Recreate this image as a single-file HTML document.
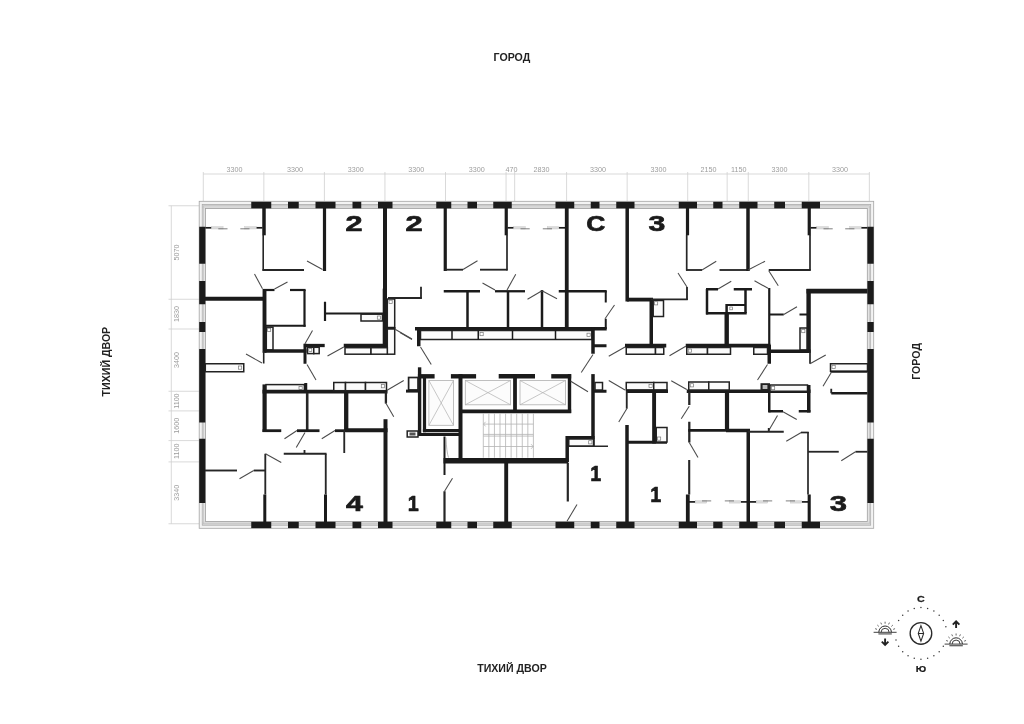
<!DOCTYPE html>
<html><head><meta charset="utf-8"><title>Plan</title>
<style>
html,body{margin:0;padding:0;background:#fff;}
body{width:1024px;height:724px;overflow:hidden;font-family:"Liberation Sans",sans-serif;}
svg{display:block;will-change:transform;filter:blur(0.35px);}
svg text{font-family:"Liberation Sans",sans-serif;}
</style></head><body>
<svg width="1024" height="724" viewBox="0 0 1024 724">
<rect width="1024" height="724" fill="#fff"/>
<line x1="203.3" y1="174.0" x2="869.35" y2="174.0" stroke="#cfcfcf" stroke-width="0.8"/>
<line x1="203.3" y1="172" x2="203.3" y2="201.2" stroke="#cfcfcf" stroke-width="0.8"/>
<line x1="263.85" y1="172" x2="263.85" y2="201.2" stroke="#cfcfcf" stroke-width="0.8"/>
<line x1="324.4" y1="172" x2="324.4" y2="201.2" stroke="#cfcfcf" stroke-width="0.8"/>
<line x1="384.95" y1="172" x2="384.95" y2="201.2" stroke="#cfcfcf" stroke-width="0.8"/>
<line x1="445.5" y1="172" x2="445.5" y2="201.2" stroke="#cfcfcf" stroke-width="0.8"/>
<line x1="506.05" y1="172" x2="506.05" y2="201.2" stroke="#cfcfcf" stroke-width="0.8"/>
<line x1="514.67" y1="172" x2="514.67" y2="201.2" stroke="#cfcfcf" stroke-width="0.8"/>
<line x1="566.6" y1="172" x2="566.6" y2="201.2" stroke="#cfcfcf" stroke-width="0.8"/>
<line x1="627.15" y1="172" x2="627.15" y2="201.2" stroke="#cfcfcf" stroke-width="0.8"/>
<line x1="687.7" y1="172" x2="687.7" y2="201.2" stroke="#cfcfcf" stroke-width="0.8"/>
<line x1="727.15" y1="172" x2="727.15" y2="201.2" stroke="#cfcfcf" stroke-width="0.8"/>
<line x1="748.25" y1="172" x2="748.25" y2="201.2" stroke="#cfcfcf" stroke-width="0.8"/>
<line x1="808.8" y1="172" x2="808.8" y2="201.2" stroke="#cfcfcf" stroke-width="0.8"/>
<line x1="869.35" y1="172" x2="869.35" y2="201.2" stroke="#cfcfcf" stroke-width="0.8"/>
<text x="234.6" y="171.6" font-size="7.2" fill="#9c9c9c" text-anchor="middle">3300</text>
<text x="295.1" y="171.6" font-size="7.2" fill="#9c9c9c" text-anchor="middle">3300</text>
<text x="355.7" y="171.6" font-size="7.2" fill="#9c9c9c" text-anchor="middle">3300</text>
<text x="416.2" y="171.6" font-size="7.2" fill="#9c9c9c" text-anchor="middle">3300</text>
<text x="476.8" y="171.6" font-size="7.2" fill="#9c9c9c" text-anchor="middle">3300</text>
<text x="511.4" y="171.6" font-size="7.2" fill="#9c9c9c" text-anchor="middle">470</text>
<text x="541.6" y="171.6" font-size="7.2" fill="#9c9c9c" text-anchor="middle">2830</text>
<text x="597.9" y="171.6" font-size="7.2" fill="#9c9c9c" text-anchor="middle">3300</text>
<text x="658.4" y="171.6" font-size="7.2" fill="#9c9c9c" text-anchor="middle">3300</text>
<text x="708.4" y="171.6" font-size="7.2" fill="#9c9c9c" text-anchor="middle">2150</text>
<text x="738.7" y="171.6" font-size="7.2" fill="#9c9c9c" text-anchor="middle">1150</text>
<text x="779.5" y="171.6" font-size="7.2" fill="#9c9c9c" text-anchor="middle">3300</text>
<text x="840.1" y="171.6" font-size="7.2" fill="#9c9c9c" text-anchor="middle">3300</text>
<line x1="171.3" y1="205.75" x2="171.3" y2="523.75" stroke="#cfcfcf" stroke-width="0.8"/>
<line x1="168.5" y1="205.75" x2="199" y2="205.75" stroke="#cfcfcf" stroke-width="0.8"/>
<line x1="168.5" y1="299.25" x2="199" y2="299.25" stroke="#cfcfcf" stroke-width="0.8"/>
<line x1="168.5" y1="329.0" x2="199" y2="329.0" stroke="#cfcfcf" stroke-width="0.8"/>
<line x1="168.5" y1="391.25" x2="199" y2="391.25" stroke="#cfcfcf" stroke-width="0.8"/>
<line x1="168.5" y1="410.9" x2="199" y2="410.9" stroke="#cfcfcf" stroke-width="0.8"/>
<line x1="168.5" y1="440.6" x2="199" y2="440.6" stroke="#cfcfcf" stroke-width="0.8"/>
<line x1="168.5" y1="461.9" x2="199" y2="461.9" stroke="#cfcfcf" stroke-width="0.8"/>
<line x1="168.5" y1="523.75" x2="199" y2="523.75" stroke="#cfcfcf" stroke-width="0.8"/>
<text transform="translate(179.4,252.5) rotate(-90)" font-size="7.2" fill="#9c9c9c" text-anchor="middle">5070</text>
<text transform="translate(179.4,314.1) rotate(-90)" font-size="7.2" fill="#9c9c9c" text-anchor="middle">1830</text>
<text transform="translate(179.4,360.1) rotate(-90)" font-size="7.2" fill="#9c9c9c" text-anchor="middle">3400</text>
<text transform="translate(179.4,401.1) rotate(-90)" font-size="7.2" fill="#9c9c9c" text-anchor="middle">1100</text>
<text transform="translate(179.4,425.8) rotate(-90)" font-size="7.2" fill="#9c9c9c" text-anchor="middle">1600</text>
<text transform="translate(179.4,451.2) rotate(-90)" font-size="7.2" fill="#9c9c9c" text-anchor="middle">1100</text>
<text transform="translate(179.4,492.8) rotate(-90)" font-size="7.2" fill="#9c9c9c" text-anchor="middle">3340</text>
<path d="M199.2 201.3H873.7V528.3H199.2Z M205.5 208.5V521.4H867.3V208.5Z" fill="#f3f3f3" fill-rule="evenodd"/>
<path d="M202.2 204.4H870.7V525.2H202.2Z M205.5 208.5V521.4H867.3V208.5Z" fill="#e4e4e4" fill-rule="evenodd"/>
<rect x="202.2" y="204.4" width="668.5" height="4.1" fill="#d9d9d9"/>
<rect x="202.2" y="521.4" width="668.5" height="3.8" fill="#d9d9d9"/>
<rect x="199.2" y="201.3" width="674.50" height="327.00" fill="none" stroke="#a4a4a4" stroke-width="0.8"/>
<rect x="205.5" y="208.5" width="661.80" height="312.90" fill="none" stroke="#a0a0a0" stroke-width="0.8"/>
<rect x="202.2" y="204.4" width="668.5" height="320.8" fill="none" stroke="#a8a8a8" stroke-width="0.7"/>
<rect x="203.6" y="205.8" width="665.7" height="318.0" fill="none" stroke="#bdbdbd" stroke-width="0.6"/>
<rect x="251.25" y="201.8" width="20.0" height="6.5" fill="#1b1b1b"/>
<rect x="251.25" y="521.8" width="20.0" height="6.3" fill="#1b1b1b"/>
<rect x="288" y="201.8" width="10.75" height="6.5" fill="#1b1b1b"/>
<rect x="288" y="521.8" width="10.75" height="6.3" fill="#1b1b1b"/>
<rect x="315.5" y="201.8" width="20.0" height="6.5" fill="#1b1b1b"/>
<rect x="315.5" y="521.8" width="20.0" height="6.3" fill="#1b1b1b"/>
<rect x="352.5" y="201.8" width="8.75" height="6.5" fill="#1b1b1b"/>
<rect x="352.5" y="521.8" width="8.75" height="6.3" fill="#1b1b1b"/>
<rect x="378" y="201.8" width="14.5" height="6.5" fill="#1b1b1b"/>
<rect x="378" y="521.8" width="14.5" height="6.3" fill="#1b1b1b"/>
<rect x="436.25" y="201.8" width="15.0" height="6.5" fill="#1b1b1b"/>
<rect x="436.25" y="521.8" width="15.0" height="6.3" fill="#1b1b1b"/>
<rect x="467.5" y="201.8" width="9.5" height="6.5" fill="#1b1b1b"/>
<rect x="467.5" y="521.8" width="9.5" height="6.3" fill="#1b1b1b"/>
<rect x="493.25" y="201.8" width="18.5" height="6.5" fill="#1b1b1b"/>
<rect x="493.25" y="521.8" width="18.5" height="6.3" fill="#1b1b1b"/>
<rect x="555.5" y="201.8" width="18.75" height="6.5" fill="#1b1b1b"/>
<rect x="555.5" y="521.8" width="18.75" height="6.3" fill="#1b1b1b"/>
<rect x="590.75" y="201.8" width="8.75" height="6.5" fill="#1b1b1b"/>
<rect x="590.75" y="521.8" width="8.75" height="6.3" fill="#1b1b1b"/>
<rect x="616.25" y="201.8" width="18.25" height="6.5" fill="#1b1b1b"/>
<rect x="616.25" y="521.8" width="18.25" height="6.3" fill="#1b1b1b"/>
<rect x="678.75" y="201.8" width="18.25" height="6.5" fill="#1b1b1b"/>
<rect x="678.75" y="521.8" width="18.25" height="6.3" fill="#1b1b1b"/>
<rect x="713.25" y="201.8" width="9.25" height="6.5" fill="#1b1b1b"/>
<rect x="713.25" y="521.8" width="9.25" height="6.3" fill="#1b1b1b"/>
<rect x="739.25" y="201.8" width="18.25" height="6.5" fill="#1b1b1b"/>
<rect x="739.25" y="521.8" width="18.25" height="6.3" fill="#1b1b1b"/>
<rect x="774.25" y="201.8" width="10.75" height="6.5" fill="#1b1b1b"/>
<rect x="774.25" y="521.8" width="10.75" height="6.3" fill="#1b1b1b"/>
<rect x="801.75" y="201.8" width="18.25" height="6.5" fill="#1b1b1b"/>
<rect x="801.75" y="521.8" width="18.25" height="6.3" fill="#1b1b1b"/>
<rect x="199.2" y="226.75" width="6.1" height="37.0" fill="#1b1b1b"/>
<rect x="867.4" y="226.75" width="6.3" height="37.0" fill="#1b1b1b"/>
<rect x="199.2" y="281" width="6.1" height="23.25" fill="#1b1b1b"/>
<rect x="867.4" y="281" width="6.3" height="23.25" fill="#1b1b1b"/>
<rect x="199.2" y="322" width="6.1" height="10" fill="#1b1b1b"/>
<rect x="867.4" y="322" width="6.3" height="10" fill="#1b1b1b"/>
<rect x="199.2" y="349" width="6.1" height="73.5" fill="#1b1b1b"/>
<rect x="867.4" y="349" width="6.3" height="73.5" fill="#1b1b1b"/>
<rect x="199.2" y="438.75" width="6.1" height="64.25" fill="#1b1b1b"/>
<rect x="867.4" y="438.75" width="6.3" height="64.25" fill="#1b1b1b"/>
<line x1="205.3" y1="227.8" x2="211.60000000000002" y2="227.8" stroke="#1b1b1b" stroke-width="1.7"/>
<rect x="211.60000000000002" y="226.60000000000002" width="11.5" height="2.4" fill="#dcdcdc" stroke="#c4c4c4" stroke-width="0.4"/>
<line x1="218.3" y1="228.8" x2="227.5" y2="228.8" stroke="#606060" stroke-width="0.8"/>
<line x1="256.2" y1="227.8" x2="262.5" y2="227.8" stroke="#1b1b1b" stroke-width="1.7"/>
<rect x="244.7" y="226.60000000000002" width="11.5" height="2.4" fill="#dcdcdc" stroke="#c4c4c4" stroke-width="0.4"/>
<line x1="240.3" y1="228.8" x2="249.5" y2="228.8" stroke="#606060" stroke-width="0.8"/>
<line x1="507.5" y1="227.8" x2="513.8" y2="227.8" stroke="#1b1b1b" stroke-width="1.7"/>
<rect x="513.8" y="226.60000000000002" width="11.5" height="2.4" fill="#dcdcdc" stroke="#c4c4c4" stroke-width="0.4"/>
<line x1="520.5" y1="228.8" x2="529.7" y2="228.8" stroke="#606060" stroke-width="0.8"/>
<line x1="558.7" y1="227.8" x2="565" y2="227.8" stroke="#1b1b1b" stroke-width="1.7"/>
<rect x="547.2" y="226.60000000000002" width="11.5" height="2.4" fill="#dcdcdc" stroke="#c4c4c4" stroke-width="0.4"/>
<line x1="542.8" y1="228.8" x2="552" y2="228.8" stroke="#606060" stroke-width="0.8"/>
<line x1="810.5" y1="227.8" x2="816.8" y2="227.8" stroke="#1b1b1b" stroke-width="1.7"/>
<rect x="816.8" y="226.60000000000002" width="11.5" height="2.4" fill="#dcdcdc" stroke="#c4c4c4" stroke-width="0.4"/>
<line x1="823.5" y1="228.8" x2="832.7" y2="228.8" stroke="#606060" stroke-width="0.8"/>
<line x1="861.1" y1="227.8" x2="867.4" y2="227.8" stroke="#1b1b1b" stroke-width="1.7"/>
<rect x="849.6" y="226.60000000000002" width="11.5" height="2.4" fill="#dcdcdc" stroke="#c4c4c4" stroke-width="0.4"/>
<line x1="845.1999999999999" y1="228.8" x2="854.4" y2="228.8" stroke="#606060" stroke-width="0.8"/>
<line x1="689" y1="501.9" x2="695.3" y2="501.9" stroke="#1b1b1b" stroke-width="1.7"/>
<rect x="695.3" y="500.7" width="11.5" height="2.4" fill="#dcdcdc" stroke="#c4c4c4" stroke-width="0.4"/>
<line x1="702" y1="500.9" x2="711.2" y2="500.9" stroke="#606060" stroke-width="0.8"/>
<line x1="740.7" y1="501.9" x2="747" y2="501.9" stroke="#1b1b1b" stroke-width="1.7"/>
<rect x="729.2" y="500.7" width="11.5" height="2.4" fill="#dcdcdc" stroke="#c4c4c4" stroke-width="0.4"/>
<line x1="724.8" y1="500.9" x2="734" y2="500.9" stroke="#606060" stroke-width="0.8"/>
<line x1="750" y1="501.9" x2="756.3" y2="501.9" stroke="#1b1b1b" stroke-width="1.7"/>
<rect x="756.3" y="500.7" width="11.5" height="2.4" fill="#dcdcdc" stroke="#c4c4c4" stroke-width="0.4"/>
<line x1="763" y1="500.9" x2="772.2" y2="500.9" stroke="#606060" stroke-width="0.8"/>
<line x1="801.7" y1="501.9" x2="808" y2="501.9" stroke="#1b1b1b" stroke-width="1.7"/>
<rect x="790.2" y="500.7" width="11.5" height="2.4" fill="#dcdcdc" stroke="#c4c4c4" stroke-width="0.4"/>
<line x1="785.8" y1="500.9" x2="795" y2="500.9" stroke="#606060" stroke-width="0.8"/>
<line x1="264" y1="208" x2="264" y2="235.3" stroke="#1b1b1b" stroke-width="3.5"/>
<line x1="263.2" y1="235" x2="263.2" y2="270.7" stroke="#262626" stroke-width="1.6"/>
<line x1="262.5" y1="270" x2="304" y2="270" stroke="#262626" stroke-width="1.85"/>
<line x1="324.5" y1="208" x2="324.5" y2="271" stroke="#1b1b1b" stroke-width="3.2"/>
<line x1="307" y1="261" x2="322.5" y2="269.5" stroke="#4a4a4a" stroke-width="1.05"/>
<line x1="385" y1="208" x2="385" y2="347" stroke="#1b1b1b" stroke-width="4"/>
<rect x="382.7" y="288.6" width="1.3" height="58.4" fill="#1b1b1b"/>
<line x1="205" y1="298.75" x2="264" y2="298.75" stroke="#1b1b1b" stroke-width="4"/>
<line x1="264.5" y1="289" x2="264.5" y2="352.8" stroke="#1b1b1b" stroke-width="3.9"/>
<line x1="263" y1="290" x2="274.5" y2="290" stroke="#1b1b1b" stroke-width="2.2"/>
<line x1="290" y1="290" x2="305.6" y2="290" stroke="#1b1b1b" stroke-width="2.2"/>
<line x1="304.5" y1="290" x2="304.5" y2="326.8" stroke="#1b1b1b" stroke-width="2.2"/>
<line x1="264.5" y1="325.75" x2="305.6" y2="325.75" stroke="#1b1b1b" stroke-width="2.2"/>
<line x1="254.5" y1="274" x2="262.5" y2="288.75" stroke="#4a4a4a" stroke-width="1.05"/>
<line x1="274.5" y1="289" x2="287.5" y2="282" stroke="#4a4a4a" stroke-width="1.05"/>
<line x1="325" y1="301.75" x2="325" y2="321" stroke="#1b1b1b" stroke-width="2.2"/>
<line x1="325" y1="313.5" x2="385" y2="313.5" stroke="#1b1b1b" stroke-width="2.0"/>
<rect x="361" y="314.2" width="21.5" height="6.8" fill="#fbfbfb" stroke="#222" stroke-width="1.5"/>
<rect x="377.3" y="316" width="3.2" height="3.2" fill="#fff" stroke="#777" stroke-width="0.7"/>
<rect x="387.3" y="299" width="7.4" height="28.5" fill="#fbfbfb" stroke="#222" stroke-width="1.5"/>
<line x1="385" y1="328.6" x2="395.5" y2="328.6" stroke="#1b1b1b" stroke-width="3"/>
<rect x="389" y="300.2" width="3.2" height="3.2" fill="#fff" stroke="#777" stroke-width="0.7"/>
<line x1="388" y1="298" x2="421.8" y2="298" stroke="#262626" stroke-width="1.8"/>
<line x1="421" y1="286.75" x2="421" y2="298.8" stroke="#262626" stroke-width="1.8"/>
<line x1="263.7" y1="351" x2="263.7" y2="363.5" stroke="#262626" stroke-width="1.6"/>
<rect x="266.3" y="327.2" width="6.7" height="22.8" fill="#fbfbfb" stroke="#222" stroke-width="1.5"/>
<rect x="267.5" y="328.3" width="3.2" height="3.2" fill="#fff" stroke="#777" stroke-width="0.7"/>
<line x1="264.5" y1="351" x2="306.5" y2="351" stroke="#1b1b1b" stroke-width="3.6"/>
<line x1="305" y1="343.75" x2="305" y2="363.75" stroke="#1b1b1b" stroke-width="3"/>
<line x1="303.9" y1="345.5" x2="324.7" y2="345.5" stroke="#1b1b1b" stroke-width="3.3"/>
<rect x="307.5" y="347.3" width="6.25" height="6.3" fill="#fbfbfb" stroke="#222" stroke-width="1.5"/>
<rect x="313.75" y="347.3" width="5.45" height="6.3" fill="#fbfbfb" stroke="#222" stroke-width="1.5"/>
<rect x="308.8" y="348.6" width="3" height="3" fill="#fff" stroke="#777" stroke-width="0.7"/>
<line x1="312.5" y1="330.5" x2="305" y2="343.75" stroke="#4a4a4a" stroke-width="1.05"/>
<line x1="307" y1="364.5" x2="316" y2="380" stroke="#4a4a4a" stroke-width="1.05"/>
<line x1="246" y1="354" x2="262" y2="363" stroke="#4a4a4a" stroke-width="1.05"/>
<rect x="205.3" y="363.75" width="38.45" height="8.0" fill="#fbfbfb" stroke="#222" stroke-width="1.5"/>
<rect x="238.5" y="366" width="3.2" height="3.2" fill="#fff" stroke="#777" stroke-width="0.7"/>
<rect x="387.3" y="329" width="7.4" height="25.2" fill="#fbfbfb" stroke="#222" stroke-width="1.5"/>
<line x1="343.75" y1="345.5" x2="387" y2="345.5" stroke="#1b1b1b" stroke-width="3.5"/>
<rect x="345" y="347.7" width="26" height="6.5" fill="#fbfbfb" stroke="#222" stroke-width="1.5"/>
<rect x="371" y="347.7" width="16.3" height="6.5" fill="#fbfbfb" stroke="#222" stroke-width="1.5"/>
<line x1="327.5" y1="356" x2="343.75" y2="347" stroke="#4a4a4a" stroke-width="1.05"/>
<line x1="395.5" y1="329.5" x2="412" y2="339" stroke="#4a4a4a" stroke-width="1.05"/>
<line x1="387.5" y1="390" x2="403.75" y2="380.5" stroke="#4a4a4a" stroke-width="1.05"/>
<line x1="264.6" y1="384.4" x2="264.6" y2="432" stroke="#1b1b1b" stroke-width="4.2"/>
<rect x="266" y="384.6" width="38.4" height="6.4" fill="#fbfbfb" stroke="#222" stroke-width="1.5"/>
<rect x="299" y="386.4" width="3.2" height="3.2" fill="#fff" stroke="#777" stroke-width="0.7"/>
<line x1="262.5" y1="391.6" x2="387.5" y2="391.6" stroke="#1b1b1b" stroke-width="3.8"/>
<line x1="305.75" y1="383" x2="305.75" y2="393" stroke="#1b1b1b" stroke-width="3"/>
<line x1="307.2" y1="393" x2="307.2" y2="431" stroke="#262626" stroke-width="2.6"/>
<rect x="333.75" y="382.5" width="11.75" height="8.2" fill="#fbfbfb" stroke="#222" stroke-width="1.5"/>
<rect x="345.5" y="382.5" width="20.0" height="8.2" fill="#fbfbfb" stroke="#222" stroke-width="1.5"/>
<rect x="365.5" y="382.5" width="21.0" height="8.2" fill="#fbfbfb" stroke="#222" stroke-width="1.5"/>
<rect x="381.3" y="384.6" width="3.2" height="3.2" fill="#fff" stroke="#777" stroke-width="0.7"/>
<line x1="346.2" y1="392" x2="346.2" y2="432" stroke="#1b1b1b" stroke-width="4.3"/>
<line x1="345.75" y1="430.2" x2="387.5" y2="430.2" stroke="#1b1b1b" stroke-width="4"/>
<line x1="385.5" y1="419.2" x2="385.5" y2="522" stroke="#1b1b1b" stroke-width="4"/>
<line x1="385.9" y1="392" x2="385.9" y2="403.5" stroke="#262626" stroke-width="2.3"/>
<line x1="385.5" y1="402.5" x2="393.75" y2="416.75" stroke="#4a4a4a" stroke-width="1.05"/>
<line x1="262.5" y1="430.7" x2="281.25" y2="430.7" stroke="#1b1b1b" stroke-width="2.8"/>
<line x1="297" y1="430.7" x2="319.5" y2="430.7" stroke="#1b1b1b" stroke-width="2.8"/>
<line x1="335" y1="430.7" x2="345.75" y2="430.7" stroke="#1b1b1b" stroke-width="2.8"/>
<line x1="284.5" y1="438.75" x2="297" y2="430.5" stroke="#4a4a4a" stroke-width="1.05"/>
<line x1="296.25" y1="447.5" x2="305" y2="432.5" stroke="#4a4a4a" stroke-width="1.05"/>
<line x1="321.75" y1="438.75" x2="335" y2="430.5" stroke="#4a4a4a" stroke-width="1.05"/>
<line x1="344.25" y1="430" x2="344.25" y2="453" stroke="#262626" stroke-width="1.85"/>
<line x1="283.75" y1="453.75" x2="326.5" y2="453.75" stroke="#262626" stroke-width="1.85"/>
<line x1="304.5" y1="450" x2="304.5" y2="453.75" stroke="#262626" stroke-width="1.85"/>
<line x1="325.75" y1="453.75" x2="325.75" y2="494.5" stroke="#262626" stroke-width="1.85"/>
<line x1="325.5" y1="494.5" x2="325.5" y2="522" stroke="#1b1b1b" stroke-width="3"/>
<line x1="265.3" y1="453.75" x2="265.3" y2="494.5" stroke="#262626" stroke-width="1.85"/>
<line x1="264.8" y1="494.5" x2="264.8" y2="522" stroke="#1b1b1b" stroke-width="3"/>
<line x1="265.5" y1="453.75" x2="281.25" y2="462.5" stroke="#4a4a4a" stroke-width="1.05"/>
<line x1="205" y1="470.5" x2="237" y2="470.5" stroke="#262626" stroke-width="1.9"/>
<line x1="253.75" y1="470.5" x2="265.5" y2="470.5" stroke="#262626" stroke-width="1.9"/>
<line x1="239.5" y1="478.75" x2="253.75" y2="470.5" stroke="#4a4a4a" stroke-width="1.05"/>
<line x1="445.25" y1="208" x2="445.25" y2="271" stroke="#1b1b1b" stroke-width="3.2"/>
<line x1="445" y1="269.7" x2="463" y2="269.7" stroke="#262626" stroke-width="1.85"/>
<line x1="463" y1="269.5" x2="477.5" y2="260.75" stroke="#4a4a4a" stroke-width="1.05"/>
<line x1="480" y1="269.7" x2="507.5" y2="269.7" stroke="#262626" stroke-width="1.85"/>
<line x1="506.25" y1="208" x2="506.25" y2="235.3" stroke="#1b1b1b" stroke-width="3.2"/>
<line x1="507" y1="235" x2="507" y2="270.5" stroke="#262626" stroke-width="1.7"/>
<line x1="566.75" y1="208" x2="566.75" y2="329" stroke="#1b1b1b" stroke-width="3.8"/>
<line x1="627.2" y1="208" x2="627.2" y2="301.5" stroke="#1b1b1b" stroke-width="3.5"/>
<line x1="627" y1="299.6" x2="653" y2="299.6" stroke="#1b1b1b" stroke-width="3.8"/>
<line x1="651" y1="299.3" x2="687.7" y2="299.3" stroke="#262626" stroke-width="1.85"/>
<line x1="651.25" y1="300" x2="651.25" y2="347" stroke="#1b1b1b" stroke-width="3.5"/>
<rect x="653.2" y="300.5" width="10.3" height="16.0" fill="#fbfbfb" stroke="#222" stroke-width="1.5"/>
<rect x="654.5" y="301.7" width="3.2" height="3.2" fill="#fff" stroke="#777" stroke-width="0.7"/>
<line x1="443.75" y1="291.25" x2="480" y2="291.25" stroke="#1b1b1b" stroke-width="2.3"/>
<line x1="495" y1="291.25" x2="525" y2="291.25" stroke="#1b1b1b" stroke-width="2.3"/>
<line x1="558.75" y1="291.25" x2="606.7" y2="291.25" stroke="#1b1b1b" stroke-width="2.3"/>
<line x1="467.5" y1="291" x2="467.5" y2="328" stroke="#1b1b1b" stroke-width="2.5"/>
<line x1="508" y1="291" x2="508" y2="328" stroke="#1b1b1b" stroke-width="2.5"/>
<line x1="542" y1="290" x2="542" y2="328" stroke="#1b1b1b" stroke-width="2.5"/>
<line x1="605.75" y1="291" x2="605.75" y2="302.5" stroke="#1b1b1b" stroke-width="2"/>
<line x1="605.75" y1="318.75" x2="605.75" y2="329" stroke="#1b1b1b" stroke-width="2"/>
<line x1="614.5" y1="305" x2="605" y2="318.75" stroke="#4a4a4a" stroke-width="1.05"/>
<line x1="482.5" y1="283" x2="495" y2="290" stroke="#4a4a4a" stroke-width="1.05"/>
<line x1="515.75" y1="274.25" x2="507" y2="290" stroke="#4a4a4a" stroke-width="1.05"/>
<line x1="527.5" y1="299.25" x2="542" y2="290.75" stroke="#4a4a4a" stroke-width="1.05"/>
<line x1="542" y1="290.75" x2="557" y2="298.75" stroke="#4a4a4a" stroke-width="1.05"/>
<line x1="415" y1="328.75" x2="606.7" y2="328.75" stroke="#1b1b1b" stroke-width="3.5"/>
<rect x="420.5" y="330.5" width="171.5" height="9.0" fill="#fbfbfb" stroke="#222" stroke-width="1.5"/>
<line x1="452" y1="330.5" x2="452" y2="339.5" stroke="#1b1b1b" stroke-width="1.5"/>
<line x1="478.25" y1="330.5" x2="478.25" y2="339.5" stroke="#1b1b1b" stroke-width="1.5"/>
<line x1="512.5" y1="330.5" x2="512.5" y2="339.5" stroke="#1b1b1b" stroke-width="1.5"/>
<line x1="555.5" y1="330.5" x2="555.5" y2="339.5" stroke="#1b1b1b" stroke-width="1.5"/>
<rect x="480" y="332.5" width="3.2" height="3.2" fill="#fff" stroke="#777" stroke-width="0.7"/>
<rect x="587" y="333.2" width="3.2" height="3.2" fill="#fff" stroke="#777" stroke-width="0.7"/>
<line x1="418.75" y1="327" x2="418.75" y2="346.25" stroke="#1b1b1b" stroke-width="3.5"/>
<line x1="593" y1="327" x2="593" y2="353.75" stroke="#1b1b1b" stroke-width="3.5"/>
<line x1="593" y1="345.75" x2="606.5" y2="345.75" stroke="#1b1b1b" stroke-width="3"/>
<line x1="400" y1="332.5" x2="412" y2="339.5" stroke="#4a4a4a" stroke-width="1.05"/>
<line x1="420.5" y1="347" x2="431.25" y2="364.5" stroke="#4a4a4a" stroke-width="1.05"/>
<line x1="593" y1="354.5" x2="581.25" y2="372.5" stroke="#4a4a4a" stroke-width="1.05"/>
<line x1="608.75" y1="356.25" x2="625" y2="347" stroke="#4a4a4a" stroke-width="1.05"/>
<line x1="419.6" y1="367.3" x2="419.6" y2="436" stroke="#1b1b1b" stroke-width="3.4"/>
<line x1="424.5" y1="377.5" x2="424.5" y2="432.2" stroke="#1b1b1b" stroke-width="3.2"/>
<line x1="422.9" y1="430.6" x2="459.5" y2="430.6" stroke="#1b1b1b" stroke-width="3.1"/>
<line x1="417.9" y1="434.5" x2="459.5" y2="434.5" stroke="#1b1b1b" stroke-width="3.0"/>
<line x1="417.9" y1="376.3" x2="434.6" y2="376.3" stroke="#1b1b1b" stroke-width="4.4"/>
<line x1="450.9" y1="376.3" x2="476.1" y2="376.3" stroke="#1b1b1b" stroke-width="4.4"/>
<line x1="498.7" y1="376.3" x2="535" y2="376.3" stroke="#1b1b1b" stroke-width="4.4"/>
<line x1="551.25" y1="376.3" x2="571.2" y2="376.3" stroke="#1b1b1b" stroke-width="4.4"/>
<line x1="460.5" y1="374.1" x2="460.5" y2="460" stroke="#1b1b1b" stroke-width="4"/>
<rect x="428.9" y="380.5" width="24.60" height="44.80" fill="#fcfcfc" stroke="#b0b0b0" stroke-width="0.8"/>
<line x1="428.9" y1="380.5" x2="453.5" y2="425.3" stroke="#b0b0b0" stroke-width="0.7"/>
<line x1="428.9" y1="425.3" x2="453.5" y2="380.5" stroke="#b0b0b0" stroke-width="0.7"/>
<rect x="465.3" y="380.5" width="45.30" height="24.30" fill="#fcfcfc" stroke="#b0b0b0" stroke-width="0.8"/>
<line x1="465.3" y1="380.5" x2="510.6" y2="404.8" stroke="#b0b0b0" stroke-width="0.7"/>
<line x1="465.3" y1="404.8" x2="510.6" y2="380.5" stroke="#b0b0b0" stroke-width="0.7"/>
<line x1="515" y1="378" x2="515" y2="411.25" stroke="#1b1b1b" stroke-width="3.8"/>
<rect x="520" y="380.5" width="45.50" height="24.30" fill="#fcfcfc" stroke="#b0b0b0" stroke-width="0.8"/>
<line x1="520" y1="380.5" x2="565.5" y2="404.8" stroke="#b0b0b0" stroke-width="0.7"/>
<line x1="520" y1="404.8" x2="565.5" y2="380.5" stroke="#b0b0b0" stroke-width="0.7"/>
<line x1="569.5" y1="374.1" x2="569.5" y2="413" stroke="#1b1b1b" stroke-width="3.4"/>
<line x1="460.5" y1="411.3" x2="571.2" y2="411.3" stroke="#1b1b1b" stroke-width="3.8"/>
<line x1="483.3" y1="413.3" x2="483.3" y2="457.7" stroke="#b4b4b4" stroke-width="0.8"/>
<line x1="488.87" y1="413.3" x2="488.87" y2="457.7" stroke="#b4b4b4" stroke-width="0.8"/>
<line x1="494.43" y1="413.3" x2="494.43" y2="457.7" stroke="#b4b4b4" stroke-width="0.8"/>
<line x1="500.0" y1="413.3" x2="500.0" y2="457.7" stroke="#b4b4b4" stroke-width="0.8"/>
<line x1="505.57" y1="413.3" x2="505.57" y2="457.7" stroke="#b4b4b4" stroke-width="0.8"/>
<line x1="511.13" y1="413.3" x2="511.13" y2="457.7" stroke="#b4b4b4" stroke-width="0.8"/>
<line x1="516.7" y1="413.3" x2="516.7" y2="457.7" stroke="#b4b4b4" stroke-width="0.8"/>
<line x1="522.27" y1="413.3" x2="522.27" y2="457.7" stroke="#b4b4b4" stroke-width="0.8"/>
<line x1="527.84" y1="413.3" x2="527.84" y2="457.7" stroke="#b4b4b4" stroke-width="0.8"/>
<line x1="533.4" y1="413.3" x2="533.4" y2="457.7" stroke="#b4b4b4" stroke-width="0.8"/>
<line x1="483.3" y1="424.1" x2="533.4" y2="424.1" stroke="#b4b4b4" stroke-width="0.8"/>
<line x1="483.3" y1="434.4" x2="533.4" y2="434.4" stroke="#b4b4b4" stroke-width="0.8"/>
<line x1="483.3" y1="436.1" x2="533.4" y2="436.1" stroke="#b4b4b4" stroke-width="0.8"/>
<line x1="483.3" y1="446.5" x2="533.4" y2="446.5" stroke="#b4b4b4" stroke-width="0.8"/>
<path d="M485.6 421.8L483.5 424.1L485.6 426.4 M531.1 444.2L533.2 446.5L531.1 448.8" fill="none" stroke="#b4b4b4" stroke-width="0.8"/>
<line x1="443.5" y1="460.7" x2="568.3" y2="460.7" stroke="#1b1b1b" stroke-width="5.6"/>
<line x1="567.2" y1="436" x2="567.2" y2="462" stroke="#1b1b1b" stroke-width="3.5"/>
<line x1="566.75" y1="437.5" x2="594.5" y2="437.5" stroke="#1b1b1b" stroke-width="3"/>
<line x1="593" y1="374.1" x2="593" y2="446.8" stroke="#1b1b1b" stroke-width="3.5"/>
<line x1="593" y1="391.25" x2="606.5" y2="391.25" stroke="#1b1b1b" stroke-width="3"/>
<rect x="595" y="382.5" width="7.5" height="7.5" fill="#fbfbfb" stroke="#222" stroke-width="1.5"/>
<line x1="570.75" y1="381.25" x2="588" y2="391.75" stroke="#4a4a4a" stroke-width="1.05"/>
<line x1="608.75" y1="380.5" x2="625" y2="390" stroke="#4a4a4a" stroke-width="1.05"/>
<rect x="568.75" y="439" width="24.75" height="7.25" fill="#fbfbfb" stroke="#222" stroke-width="1.5"/>
<rect x="588.7" y="440.7" width="3.2" height="3.2" fill="#fff" stroke="#777" stroke-width="0.7"/>
<line x1="568.75" y1="446.25" x2="608" y2="446.25" stroke="#262626" stroke-width="1.7"/>
<line x1="567.8" y1="463" x2="567.8" y2="501.5" stroke="#262626" stroke-width="2.2"/>
<line x1="577" y1="504.5" x2="567" y2="521.25" stroke="#4a4a4a" stroke-width="1.05"/>
<rect x="408.6" y="377.5" width="9.4" height="12.5" fill="#fbfbfb" stroke="#222" stroke-width="1.7"/>
<line x1="406" y1="391.1" x2="418" y2="391.1" stroke="#1b1b1b" stroke-width="3"/>
<rect x="407.2" y="431" width="10.8" height="6" fill="#fbfbfb" stroke="#222" stroke-width="1.5"/>
<rect x="409.5" y="432.5" width="6.0" height="3.0" fill="#555"/>
<line x1="444.5" y1="436.5" x2="444.5" y2="475" stroke="#1b1b1b" stroke-width="2"/>
<path d="M446 437.5Q446.5 452 448.5 457.5" fill="none" stroke="#999" stroke-width="0.7"/>
<line x1="444.5" y1="491.25" x2="452.5" y2="478.25" stroke="#4a4a4a" stroke-width="1.05"/>
<line x1="444.5" y1="491.25" x2="444.5" y2="522" stroke="#262626" stroke-width="2.2"/>
<line x1="506.2" y1="463" x2="506.2" y2="522" stroke="#1b1b1b" stroke-width="3.9"/>
<line x1="625" y1="345.6" x2="666.25" y2="345.6" stroke="#1b1b1b" stroke-width="3.6"/>
<rect x="626.25" y="347.5" width="29.25" height="6.75" fill="#fbfbfb" stroke="#222" stroke-width="1.5"/>
<rect x="655.5" y="347.5" width="8.25" height="6.75" fill="#fbfbfb" stroke="#222" stroke-width="1.5"/>
<line x1="669.5" y1="355.75" x2="685.75" y2="346.25" stroke="#4a4a4a" stroke-width="1.05"/>
<line x1="685.75" y1="345.6" x2="770.5" y2="345.6" stroke="#1b1b1b" stroke-width="3.6"/>
<rect x="686.75" y="347.5" width="20.75" height="6.75" fill="#fbfbfb" stroke="#222" stroke-width="1.5"/>
<rect x="707.5" y="347.5" width="23.0" height="6.75" fill="#fbfbfb" stroke="#222" stroke-width="1.5"/>
<rect x="688.2" y="349" width="3.2" height="3.2" fill="#fff" stroke="#777" stroke-width="0.7"/>
<rect x="753.75" y="347.5" width="13.75" height="6.75" fill="#fbfbfb" stroke="#222" stroke-width="1.5"/>
<rect x="626.25" y="382.5" width="27.5" height="7.5" fill="#fbfbfb" stroke="#222" stroke-width="1.5"/>
<rect x="653.75" y="382.5" width="13.25" height="7.5" fill="#fbfbfb" stroke="#222" stroke-width="1.5"/>
<rect x="649" y="384.3" width="3.2" height="3.2" fill="#fff" stroke="#777" stroke-width="0.7"/>
<line x1="626" y1="391.2" x2="668" y2="391.2" stroke="#1b1b1b" stroke-width="3.6"/>
<line x1="626.75" y1="391" x2="626.75" y2="408.75" stroke="#262626" stroke-width="1.85"/>
<line x1="626.75" y1="408.75" x2="618.75" y2="422" stroke="#4a4a4a" stroke-width="1.05"/>
<line x1="627" y1="425" x2="627" y2="522" stroke="#1b1b1b" stroke-width="3.5"/>
<line x1="654.1" y1="391" x2="654.1" y2="443.5" stroke="#1b1b1b" stroke-width="3.9"/>
<line x1="627" y1="442.3" x2="667" y2="442.3" stroke="#1b1b1b" stroke-width="3"/>
<rect x="656.25" y="427.5" width="10.75" height="14.5" fill="#fbfbfb" stroke="#222" stroke-width="1.5"/>
<rect x="657.5" y="437" width="3.2" height="3.2" fill="#fff" stroke="#777" stroke-width="0.7"/>
<line x1="671.25" y1="380.75" x2="686.75" y2="389.5" stroke="#4a4a4a" stroke-width="1.05"/>
<line x1="686.75" y1="391.2" x2="810.5" y2="391.2" stroke="#1b1b1b" stroke-width="3.6"/>
<rect x="688.75" y="382" width="20.0" height="8" fill="#fbfbfb" stroke="#222" stroke-width="1.5"/>
<rect x="708.75" y="382" width="20.5" height="8" fill="#fbfbfb" stroke="#222" stroke-width="1.5"/>
<rect x="690.2" y="383.7" width="3.2" height="3.2" fill="#fff" stroke="#777" stroke-width="0.7"/>
<rect x="760.5" y="383.2" width="9.5" height="7.3" fill="#222"/>
<rect x="762.6" y="385" width="4.8" height="4" fill="#bbb"/>
<rect x="770" y="385" width="37.5" height="6.25" fill="#fbfbfb" stroke="#222" stroke-width="1.5"/>
<rect x="771.5" y="386.5" width="3.2" height="3.2" fill="#fff" stroke="#777" stroke-width="0.7"/>
<line x1="689.3" y1="392" x2="689.3" y2="405" stroke="#262626" stroke-width="2.3"/>
<line x1="689.25" y1="406.25" x2="681.25" y2="418.75" stroke="#4a4a4a" stroke-width="1.05"/>
<line x1="689.3" y1="421.75" x2="689.3" y2="442.5" stroke="#262626" stroke-width="2.3"/>
<line x1="689.25" y1="442.5" x2="698" y2="457.5" stroke="#4a4a4a" stroke-width="1.05"/>
<line x1="689.2" y1="460" x2="689.2" y2="494.5" stroke="#262626" stroke-width="2.1"/>
<line x1="687.8" y1="494.5" x2="687.8" y2="522" stroke="#1b1b1b" stroke-width="3.8"/>
<line x1="727" y1="392" x2="727" y2="431" stroke="#1b1b1b" stroke-width="4.2"/>
<line x1="688.3" y1="430.3" x2="727" y2="430.3" stroke="#1b1b1b" stroke-width="2.7"/>
<line x1="726" y1="430.5" x2="750" y2="430.5" stroke="#1b1b1b" stroke-width="3.5"/>
<line x1="748.25" y1="429" x2="748.25" y2="522" stroke="#1b1b1b" stroke-width="3.5"/>
<line x1="748" y1="431.75" x2="783.75" y2="431.75" stroke="#262626" stroke-width="1.85"/>
<line x1="769.25" y1="392" x2="769.25" y2="412.5" stroke="#1b1b1b" stroke-width="2.5"/>
<line x1="769.25" y1="411.25" x2="783" y2="411.25" stroke="#1b1b1b" stroke-width="2.5"/>
<line x1="808.75" y1="385" x2="808.75" y2="412.5" stroke="#1b1b1b" stroke-width="3.5"/>
<line x1="798.75" y1="411.25" x2="810.5" y2="411.25" stroke="#1b1b1b" stroke-width="2.5"/>
<line x1="783" y1="411.75" x2="796.75" y2="419.5" stroke="#4a4a4a" stroke-width="1.05"/>
<line x1="777.5" y1="415.5" x2="768.75" y2="430.5" stroke="#4a4a4a" stroke-width="1.05"/>
<line x1="768.75" y1="428" x2="768.75" y2="431.75" stroke="#262626" stroke-width="1.85"/>
<line x1="786.25" y1="441.25" x2="801.25" y2="432.5" stroke="#4a4a4a" stroke-width="1.05"/>
<line x1="801" y1="432.5" x2="808.7" y2="432.5" stroke="#262626" stroke-width="1.7"/>
<line x1="808" y1="432" x2="808" y2="494.5" stroke="#262626" stroke-width="1.7"/>
<line x1="809.2" y1="494.5" x2="809.2" y2="522" stroke="#1b1b1b" stroke-width="3.1"/>
<line x1="808" y1="451.75" x2="838.75" y2="451.75" stroke="#262626" stroke-width="1.8"/>
<line x1="841.25" y1="460.75" x2="855.5" y2="451.75" stroke="#4a4a4a" stroke-width="1.05"/>
<line x1="855.5" y1="451.75" x2="867.5" y2="451.75" stroke="#262626" stroke-width="1.8"/>
<line x1="687.5" y1="208" x2="687.5" y2="235.3" stroke="#1b1b1b" stroke-width="3.2"/>
<line x1="686.7" y1="235" x2="686.7" y2="270.5" stroke="#262626" stroke-width="1.7"/>
<line x1="686" y1="270" x2="702" y2="270" stroke="#262626" stroke-width="1.85"/>
<line x1="702" y1="270" x2="716.25" y2="261.25" stroke="#4a4a4a" stroke-width="1.05"/>
<line x1="719.5" y1="270" x2="748" y2="270" stroke="#262626" stroke-width="1.85"/>
<line x1="748" y1="208" x2="748" y2="271" stroke="#1b1b1b" stroke-width="3.5"/>
<line x1="748" y1="270" x2="765" y2="261.25" stroke="#4a4a4a" stroke-width="1.05"/>
<line x1="768.75" y1="270" x2="810.7" y2="270" stroke="#262626" stroke-width="1.85"/>
<line x1="809.25" y1="208" x2="809.25" y2="235.3" stroke="#1b1b1b" stroke-width="3.2"/>
<line x1="810" y1="235" x2="810" y2="270.5" stroke="#262626" stroke-width="1.7"/>
<line x1="768.75" y1="270.75" x2="778.25" y2="285.75" stroke="#4a4a4a" stroke-width="1.05"/>
<line x1="678" y1="273" x2="687" y2="287" stroke="#4a4a4a" stroke-width="1.05"/>
<line x1="687" y1="287" x2="687" y2="300" stroke="#262626" stroke-width="1.85"/>
<line x1="706" y1="289.25" x2="718" y2="289.25" stroke="#1b1b1b" stroke-width="2.5"/>
<line x1="718" y1="289" x2="731.25" y2="281.25" stroke="#4a4a4a" stroke-width="1.05"/>
<line x1="733.75" y1="289.25" x2="752" y2="289.25" stroke="#1b1b1b" stroke-width="2.5"/>
<line x1="707" y1="289" x2="707" y2="314.5" stroke="#1b1b1b" stroke-width="2.5"/>
<line x1="706" y1="313.25" x2="746.7" y2="313.25" stroke="#1b1b1b" stroke-width="2.5"/>
<line x1="745.5" y1="289" x2="745.5" y2="313" stroke="#1b1b1b" stroke-width="2.5"/>
<line x1="726.25" y1="305" x2="745.5" y2="305" stroke="#1b1b1b" stroke-width="2"/>
<rect x="729.8" y="307" width="2.8" height="2.8" fill="#fff" stroke="#777" stroke-width="0.7"/>
<line x1="726.7" y1="313" x2="726.7" y2="346" stroke="#1b1b1b" stroke-width="4.4"/>
<line x1="726.6" y1="304" x2="726.6" y2="313.5" stroke="#1b1b1b" stroke-width="2.5"/>
<line x1="754.5" y1="280.75" x2="768" y2="288.25" stroke="#4a4a4a" stroke-width="1.05"/>
<line x1="769.25" y1="288" x2="769.25" y2="346" stroke="#1b1b1b" stroke-width="2.2"/>
<line x1="769.25" y1="345" x2="769.25" y2="363.75" stroke="#1b1b1b" stroke-width="3.5"/>
<line x1="769" y1="314.5" x2="783.75" y2="314.5" stroke="#1b1b1b" stroke-width="2"/>
<line x1="783.75" y1="314.5" x2="797" y2="306.75" stroke="#4a4a4a" stroke-width="1.05"/>
<line x1="799.5" y1="314.5" x2="807.5" y2="314.5" stroke="#1b1b1b" stroke-width="2"/>
<line x1="806.5" y1="291.1" x2="867.5" y2="291.1" stroke="#1b1b1b" stroke-width="4.6"/>
<line x1="808.6" y1="289" x2="808.6" y2="352.5" stroke="#1b1b1b" stroke-width="4.4"/>
<rect x="800" y="328" width="7" height="22" fill="#fbfbfb" stroke="#222" stroke-width="1.5"/>
<rect x="801.7" y="329.5" width="3.2" height="3.2" fill="#fff" stroke="#777" stroke-width="0.7"/>
<line x1="769" y1="351.25" x2="810.7" y2="351.25" stroke="#1b1b1b" stroke-width="3.5"/>
<line x1="810" y1="352" x2="810" y2="363.75" stroke="#262626" stroke-width="1.7"/>
<line x1="810" y1="363.75" x2="825.75" y2="355" stroke="#4a4a4a" stroke-width="1.05"/>
<line x1="767.5" y1="364.5" x2="757.5" y2="380" stroke="#4a4a4a" stroke-width="1.05"/>
<rect x="830.5" y="363.75" width="37.0" height="7.5" fill="#fbfbfb" stroke="#222" stroke-width="1.5"/>
<line x1="830.5" y1="371.75" x2="867.5" y2="371.75" stroke="#1b1b1b" stroke-width="2.2"/>
<rect x="832" y="365.3" width="3.2" height="3.2" fill="#fff" stroke="#777" stroke-width="0.7"/>
<line x1="831.25" y1="372.5" x2="823" y2="386.25" stroke="#4a4a4a" stroke-width="1.05"/>
<line x1="831.25" y1="393.25" x2="867.5" y2="393.25" stroke="#1b1b1b" stroke-width="2.5"/>
<line x1="831.25" y1="388.75" x2="831.25" y2="393.25" stroke="#262626" stroke-width="1.85"/>
<text transform="translate(345.62,231.35) scale(1.379,1)" font-size="22.20" font-weight="700" fill="#1b1b1b" stroke="#1b1b1b" stroke-width="0.7" stroke-linejoin="round">2</text>
<text transform="translate(405.52,231.35) scale(1.388,1)" font-size="22.20" font-weight="700" fill="#1b1b1b" stroke="#1b1b1b" stroke-width="0.7" stroke-linejoin="round">2</text>
<text transform="translate(586.13,231.33) scale(1.191,1)" font-size="22.18" font-weight="700" fill="#1b1b1b" stroke="#1b1b1b" stroke-width="0.7" stroke-linejoin="round">С</text>
<text transform="translate(648.59,231.30) scale(1.367,1)" font-size="22.13" font-weight="700" fill="#1b1b1b" stroke="#1b1b1b" stroke-width="0.7" stroke-linejoin="round">3</text>
<text transform="translate(345.91,510.85) scale(1.331,1)" font-size="22.82" font-weight="700" fill="#1b1b1b" stroke="#1b1b1b" stroke-width="0.7" stroke-linejoin="round">4</text>
<text transform="translate(407.76,510.85) scale(0.866,1)" font-size="22.82" font-weight="700" fill="#1b1b1b" stroke="#1b1b1b" stroke-width="0.7" stroke-linejoin="round">1</text>
<text transform="translate(590.26,481.35) scale(0.876,1)" font-size="22.53" font-weight="700" fill="#1b1b1b" stroke="#1b1b1b" stroke-width="0.7" stroke-linejoin="round">1</text>
<text transform="translate(650.37,501.65) scale(0.893,1)" font-size="22.09" font-weight="700" fill="#1b1b1b" stroke="#1b1b1b" stroke-width="0.7" stroke-linejoin="round">1</text>
<text transform="translate(829.68,510.65) scale(1.393,1)" font-size="22.20" font-weight="700" fill="#1b1b1b" stroke="#1b1b1b" stroke-width="0.7" stroke-linejoin="round">3</text>
<text x="511.9" y="61" font-size="10.6" font-weight="700" fill="#222" text-anchor="middle">ГОРОД</text>
<text x="512" y="672" font-size="10.6" font-weight="700" fill="#222" text-anchor="middle">ТИХИЙ ДВОР</text>
<text transform="translate(110.3,361.6) rotate(-90)" font-size="10.6" font-weight="700" fill="#222" text-anchor="middle">ТИХИЙ ДВОР</text>
<text transform="translate(920,361.4) rotate(-90)" font-size="10.6" font-weight="700" fill="#222" text-anchor="middle">ГОРОД</text>
<circle cx="920.95" cy="633.4" r="10.8" fill="none" stroke="#2a2a2a" stroke-width="1.35"/>
<path d="M920.95 625.6L923.6500000000001 633.4L920.95 641.1999999999999L918.25 633.4Z M918.25 633.4H923.6500000000001" fill="none" stroke="#2a2a2a" stroke-width="1.05" stroke-linejoin="miter"/>
<circle cx="898.61" cy="620.50" r="0.75" fill="#3a3a3a"/>
<circle cx="902.71" cy="615.16" r="0.75" fill="#3a3a3a"/>
<circle cx="908.05" cy="611.06" r="0.75" fill="#3a3a3a"/>
<circle cx="914.27" cy="608.48" r="0.75" fill="#3a3a3a"/>
<circle cx="920.95" cy="607.60" r="0.75" fill="#3a3a3a"/>
<circle cx="927.63" cy="608.48" r="0.75" fill="#3a3a3a"/>
<circle cx="933.85" cy="611.06" r="0.75" fill="#3a3a3a"/>
<circle cx="939.19" cy="615.16" r="0.75" fill="#3a3a3a"/>
<circle cx="943.29" cy="620.50" r="0.75" fill="#3a3a3a"/>
<circle cx="945.87" cy="626.72" r="0.75" fill="#3a3a3a"/>
<circle cx="943.29" cy="646.30" r="0.75" fill="#3a3a3a"/>
<circle cx="939.19" cy="651.64" r="0.75" fill="#3a3a3a"/>
<circle cx="933.85" cy="655.74" r="0.75" fill="#3a3a3a"/>
<circle cx="927.63" cy="658.32" r="0.75" fill="#3a3a3a"/>
<circle cx="920.95" cy="659.20" r="0.75" fill="#3a3a3a"/>
<circle cx="914.27" cy="658.32" r="0.75" fill="#3a3a3a"/>
<circle cx="908.05" cy="655.74" r="0.75" fill="#3a3a3a"/>
<circle cx="902.71" cy="651.64" r="0.75" fill="#3a3a3a"/>
<circle cx="898.61" cy="646.30" r="0.75" fill="#3a3a3a"/>
<circle cx="896.03" cy="640.08" r="0.75" fill="#3a3a3a"/>
<line x1="873.6" y1="632.3" x2="896.6" y2="632.3" stroke="#2a2a2a" stroke-width="0.9"/>
<line x1="878.4" y1="633.9" x2="891.8000000000001" y2="633.9" stroke="#555" stroke-width="1.2"/>
<path d="M878.8000000000001 632.3A6.3 6.3 0 0 1 891.4 632.3" fill="none" stroke="#2a2a2a" stroke-width="1"/>
<path d="M881.1 632.3A4 4 0 0 1 889.1 632.3" fill="none" stroke="#2a2a2a" stroke-width="0.9"/>
<line x1="877.02" y1="629.36" x2="875.14" y2="628.67" stroke="#555" stroke-width="0.9"/>
<line x1="878.81" y1="626.43" x2="877.35" y2="625.07" stroke="#555" stroke-width="0.9"/>
<line x1="881.6" y1="624.44" x2="880.79" y2="622.62" stroke="#555" stroke-width="0.9"/>
<line x1="885.1" y1="623.7" x2="885.1" y2="621.7" stroke="#555" stroke-width="0.9"/>
<line x1="888.6" y1="624.44" x2="889.41" y2="622.62" stroke="#555" stroke-width="0.9"/>
<line x1="891.39" y1="626.43" x2="892.85" y2="625.07" stroke="#555" stroke-width="0.9"/>
<line x1="893.18" y1="629.36" x2="895.06" y2="628.67" stroke="#555" stroke-width="0.9"/>
<line x1="944.6" y1="644.1" x2="967.6" y2="644.1" stroke="#2a2a2a" stroke-width="0.9"/>
<line x1="949.4" y1="645.7" x2="962.8000000000001" y2="645.7" stroke="#555" stroke-width="1.2"/>
<path d="M949.8000000000001 644.1A6.3 6.3 0 0 1 962.4 644.1" fill="none" stroke="#2a2a2a" stroke-width="1"/>
<path d="M952.1 644.1A4 4 0 0 1 960.1 644.1" fill="none" stroke="#2a2a2a" stroke-width="0.9"/>
<line x1="948.02" y1="641.16" x2="946.14" y2="640.47" stroke="#555" stroke-width="0.9"/>
<line x1="949.81" y1="638.23" x2="948.35" y2="636.87" stroke="#555" stroke-width="0.9"/>
<line x1="952.6" y1="636.24" x2="951.79" y2="634.42" stroke="#555" stroke-width="0.9"/>
<line x1="956.1" y1="635.5" x2="956.1" y2="633.5" stroke="#555" stroke-width="0.9"/>
<line x1="959.6" y1="636.24" x2="960.41" y2="634.42" stroke="#555" stroke-width="0.9"/>
<line x1="962.39" y1="638.23" x2="963.85" y2="636.87" stroke="#555" stroke-width="0.9"/>
<line x1="964.18" y1="641.16" x2="966.06" y2="640.47" stroke="#555" stroke-width="0.9"/>
<path d="M885.1 638.5V644.5 M881.8000000000001 641.6999999999999L885.1 645.0L888.4 641.6999999999999" fill="none" stroke="#222" stroke-width="1.9" stroke-linejoin="miter"/>
<path d="M956.1 627.9V621.9 M952.8000000000001 624.7L956.1 621.4L959.4 624.7" fill="none" stroke="#222" stroke-width="1.9" stroke-linejoin="miter"/>
<text transform="translate(916.90,601.98) scale(1.126,1)" font-size="9.53" font-weight="700" fill="#1b1b1b" stroke="#1b1b1b" stroke-width="0.25" stroke-linejoin="round">С</text>
<text transform="translate(915.65,671.98) scale(1.063,1)" font-size="9.53" font-weight="700" fill="#1b1b1b" stroke="#1b1b1b" stroke-width="0.25" stroke-linejoin="round">Ю</text>
</svg>
</body></html>
